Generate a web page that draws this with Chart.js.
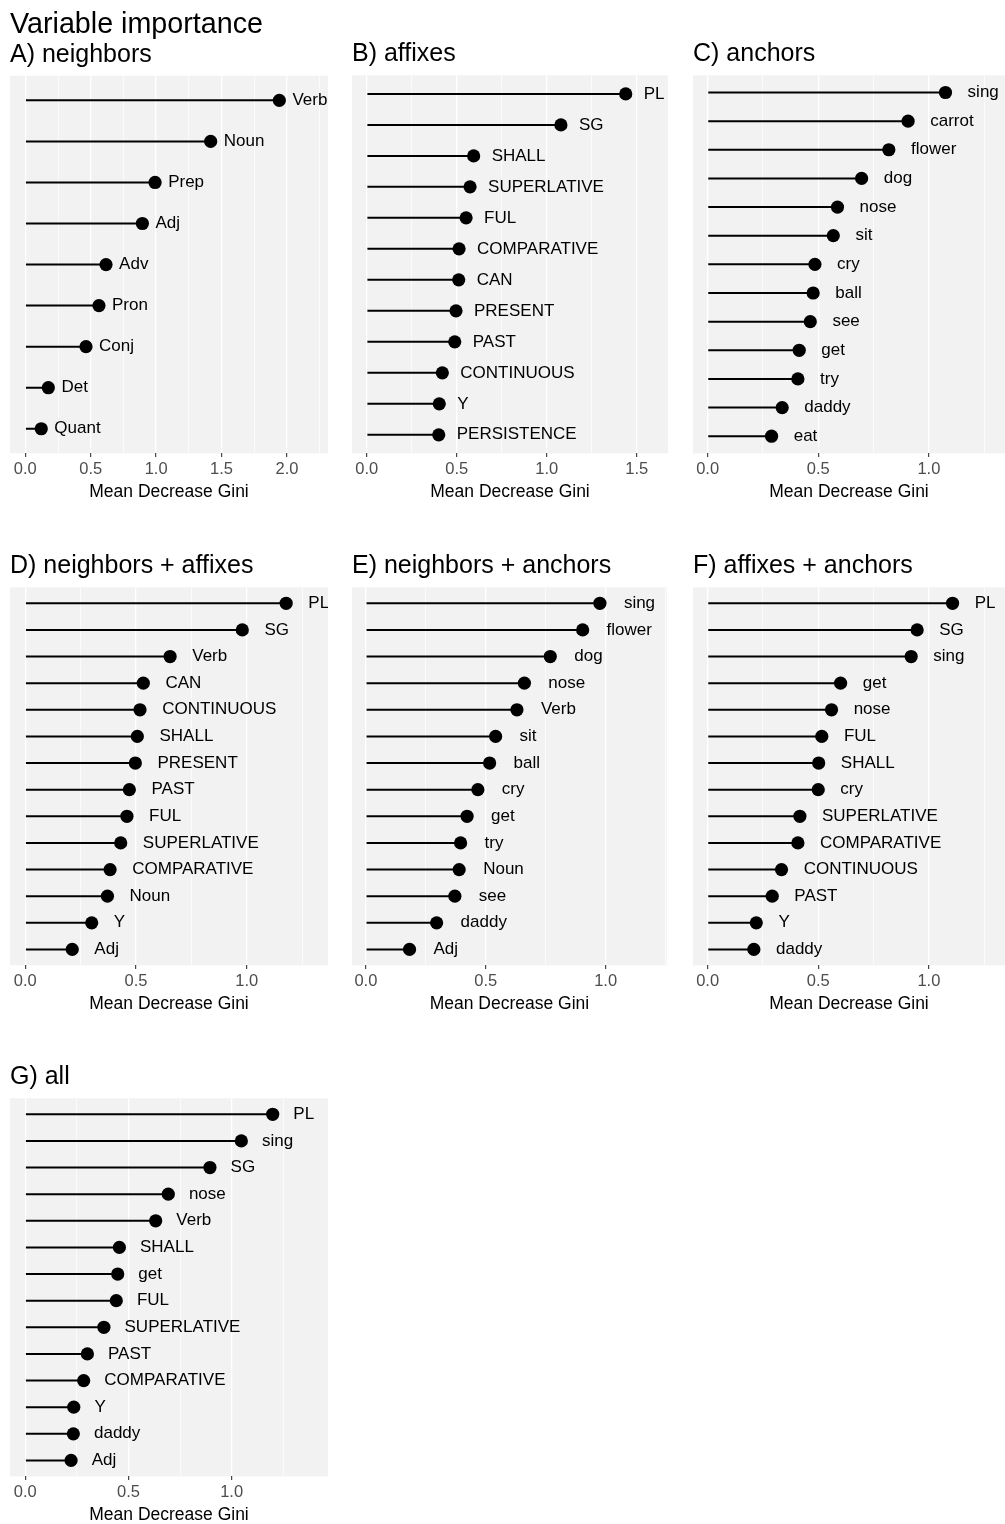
<!DOCTYPE html>
<html>
<head>
<meta charset="utf-8">
<script src="https://cdn.jsdelivr.net/npm/chart.js@4.4.0/dist/chart.umd.min.js"></script>
<style>
  html, body { margin: 0; padding: 0; background: #ffffff; }
  body { width: 1005px; height: 1524px; position: relative; overflow: hidden; }
  canvas { position: absolute; }
</style>
</head>
<body>
<script>
// Mean Decrease Gini per predictor, one pair of arrays per feature set (sorted, largest first)
const neighborsVars = ['Verb', 'Noun', 'Prep', 'Adj', 'Adv', 'Pron', 'Conj', 'Det', 'Quant'];
const neighborsGini = [1.942, 1.417, 0.992, 0.895, 0.617, 0.563, 0.464, 0.176, 0.122];

const affixesVars = ['PL', 'SG', 'SHALL', 'SUPERLATIVE', 'FUL', 'COMPARATIVE', 'CAN', 'PRESENT', 'PAST', 'CONTINUOUS', 'Y', 'PERSISTENCE'];
const affixesGini = [1.439, 1.079, 0.594, 0.574, 0.552, 0.513, 0.511, 0.496, 0.489, 0.420, 0.403, 0.400];

const anchorsVars = ['sing', 'carrot', 'flower', 'dog', 'nose', 'sit', 'cry', 'ball', 'see', 'get', 'try', 'daddy', 'eat'];
const anchorsGini = [1.075, 0.906, 0.819, 0.696, 0.587, 0.568, 0.485, 0.477, 0.464, 0.414, 0.408, 0.337, 0.289];

const neighAffVars = ['PL', 'SG', 'Verb', 'CAN', 'CONTINUOUS', 'SHALL', 'PRESENT', 'PAST', 'FUL', 'SUPERLATIVE', 'COMPARATIVE', 'Noun', 'Y', 'Adj'];
const neighAffGini = [1.178, 0.980, 0.654, 0.533, 0.518, 0.506, 0.497, 0.470, 0.459, 0.431, 0.383, 0.371, 0.300, 0.212];

const neighAncVars = ['sing', 'flower', 'dog', 'nose', 'Verb', 'sit', 'ball', 'cry', 'get', 'try', 'Noun', 'see', 'daddy', 'Adj'];
const neighAncGini = [0.976, 0.904, 0.769, 0.661, 0.630, 0.541, 0.516, 0.467, 0.422, 0.395, 0.389, 0.371, 0.295, 0.182];

const affAncVars = ['PL', 'SG', 'sing', 'get', 'nose', 'FUL', 'SHALL', 'cry', 'SUPERLATIVE', 'COMPARATIVE', 'CONTINUOUS', 'PAST', 'Y', 'daddy'];
const affAncGini = [1.107, 0.947, 0.920, 0.601, 0.560, 0.516, 0.502, 0.500, 0.417, 0.408, 0.334, 0.292, 0.220, 0.209];

const allVars = ['PL', 'sing', 'SG', 'nose', 'Verb', 'SHALL', 'get', 'FUL', 'SUPERLATIVE', 'PAST', 'COMPARATIVE', 'Y', 'daddy', 'Adj'];
const allGini = [1.199, 1.047, 0.895, 0.693, 0.632, 0.456, 0.448, 0.441, 0.381, 0.301, 0.283, 0.235, 0.233, 0.222];

const mainTitle = 'Variable importance';
const panelTitles = ['A) neighbors', 'B) affixes', 'C) anchors', 'D) neighbors + affixes',
                     'E) neighbors + anchors', 'F) affixes + anchors', 'G) all'];
const axisTitle = 'Mean Decrease Gini';

// x-axis breaks: labelled major breaks and unlabelled minor breaks between them
const majorBreaks = [0, 0.5, 1.0, 1.5, 2.0];
const minorBreaks = [0.25, 0.75, 1.25, 1.75, 2.25];

// ---- layout & styling ----
const xLimits = [
  [-0.117, 2.314], [-0.082, 1.674], [-0.066, 1.344],
  [-0.069, 1.367], [-0.058, 1.255], [-0.066, 1.344],
  [-0.074, 1.467]
];
const COLS = [{ left: 10, right: 328 }, { left: 352, right: 668 }, { left: 693, right: 1005 }];
const ROWS = [{ top: 75.4, bottom: 453.2 }, { top: 586.8, bottom: 965 }, { top: 1098.4, bottom: 1476.6 }];
const FONT = "'Liberation Sans', Arial, Helvetica, sans-serif";
const PANEL_BG = '#F2F2F2';
const LABEL_NUDGE = 0.1;

const isMajor = v => Math.abs(v * 2 - Math.round(v * 2)) < 1e-6;

const panelBackground = {
  id: 'panelBackground',
  beforeDraw(chart, args, opts) {
    const { ctx, chartArea: a } = chart;
    ctx.save();
    ctx.fillStyle = opts.color;
    ctx.fillRect(a.left, a.top, a.right - a.left, a.bottom - a.top);
    ctx.restore();
  }
};

// variable names written to the right of each dot
const pointLabels = {
  id: 'pointLabels',
  afterDatasetsDraw(chart, args, opts) {
    const { ctx } = chart;
    const xs = chart.scales.x;
    const meta = chart.getDatasetMeta(1);
    const ds = chart.data.datasets[1];
    ctx.save();
    ctx.font = opts.size + 'px ' + FONT;
    ctx.fillStyle = opts.color;
    ctx.textAlign = 'left';
    ctx.textBaseline = 'middle';
    meta.data.forEach((pt, i) => {
      const d = ds.data[i];
      ctx.fillText(chart.data.labels[i], xs.getPixelForValue(d.x + opts.nudge), pt.y);
    });
    ctx.restore();
  }
};

function makePanel(idx, col, row, names, values) {
  const box = { left: COLS[col].left, right: COLS[col].right, top: ROWS[row].top, bottom: ROWS[row].bottom };
  const width = box.right - box.left;
  const canvas = document.createElement('canvas');
  canvas.width = width;
  canvas.height = 520;
  canvas.style.left = box.left + 'px';
  canvas.style.top = '0px';
  document.body.appendChild(canvas);

  const [xmin, xmax] = xLimits[idx];
  const breaks = majorBreaks.concat(minorBreaks)
    .filter(b => b >= xmin && b <= xmax)
    .sort((a, b) => a - b);
  const points = values.map((v, i) => ({ x: v, y: i }));

  const chart = new Chart(canvas, {
    type: 'bar',
    data: {
      labels: names,
      datasets: [
        { type: 'bar', data: points, backgroundColor: '#000000', borderWidth: 0,
          barThickness: 2, inflateAmount: 0 },
        { type: 'scatter', data: points, backgroundColor: '#000000', borderWidth: 0,
          pointRadius: 6.6, pointHoverRadius: 6.6 }
      ]
    },
    options: {
      indexAxis: 'y',
      responsive: false,
      maintainAspectRatio: false,
      animation: false,
      devicePixelRatio: 1,
      events: [],
      layout: { padding: 0, autoPadding: false },
      scales: {
        x: {
          type: 'linear',
          min: xmin,
          max: xmax,
          afterBuildTicks: s => { s.ticks = breaks.map(v => ({ value: v })); },
          border: { display: false },
          grid: {
            color: '#ffffff',
            lineWidth: c => (c.tick && isMajor(c.tick.value)) ? 1.3 : 0.65,
            drawTicks: true,
            tickLength: 3.5,
            tickWidth: 1.1,
            tickColor: c => (c.tick && isMajor(c.tick.value)) ? '#333333' : 'rgba(0,0,0,0)'
          },
          ticks: {
            autoSkip: false,
            maxRotation: 0,
            padding: 2.4,
            color: '#4D4D4D',
            font: { family: FONT, size: 16.5 },
            callback: v => isMajor(v) ? v.toFixed(1) : ''
          },
          title: {
            display: true,
            text: axisTitle,
            color: '#000000',
            font: { family: FONT, size: 17.5 },
            padding: { top: 0.5, bottom: 2 }
          }
        },
        y: {
          type: 'linear',
          reverse: true,
          offset: false,
          min: -0.6,
          max: names.length - 0.4,
          display: false,
          grid: { offset: false }
        }
      },
      plugins: {
        legend: { display: false },
        tooltip: { enabled: false },
        title: {
          display: idx === 0,
          text: mainTitle,
          align: 'start',
          color: '#000000',
          font: { family: FONT, size: 28.7, weight: 'normal', lineHeight: 1.2 },
          padding: { top: 6, bottom: 0 }
        },
        subtitle: {
          display: true,
          text: panelTitles[idx],
          align: 'start',
          color: '#000000',
          font: { family: FONT, size: 25, weight: 'normal', lineHeight: 1 },
          padding: { top: 0, bottom: 8.3 }
        },
        panelBackground: { color: PANEL_BG },
        pointLabels: { nudge: LABEL_NUDGE, size: 17, color: '#000000' }
      }
    },
    plugins: [panelBackground, pointLabels]
  });

  // place the canvas so that its plotting area sits on the panel box
  const a = chart.chartArea;
  const above = a.top;
  const below = chart.height - a.bottom;
  const canvasTop = Math.round(box.top - above);
  const h = Math.round(box.bottom + below - canvasTop);
  canvas.style.top = canvasTop + 'px';
  chart.resize(width, h);
  return chart;
}

makePanel(0, 0, 0, neighborsVars, neighborsGini);
makePanel(1, 1, 0, affixesVars, affixesGini);
makePanel(2, 2, 0, anchorsVars, anchorsGini);
makePanel(3, 0, 1, neighAffVars, neighAffGini);
makePanel(4, 1, 1, neighAncVars, neighAncGini);
makePanel(5, 2, 1, affAncVars, affAncGini);
makePanel(6, 0, 2, allVars, allGini);
</script>
</body>
</html>
